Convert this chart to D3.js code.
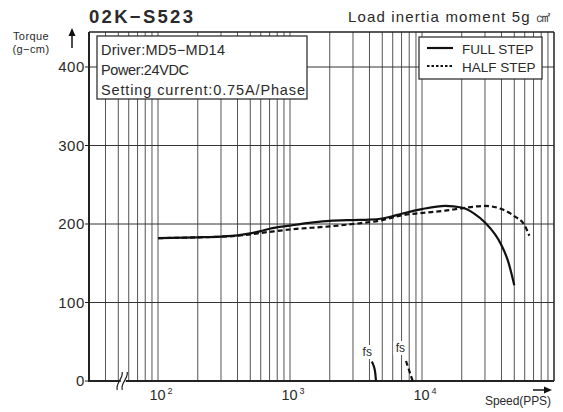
<!DOCTYPE html>
<html>
<head>
<meta charset="utf-8">
<script src="https://cdn.jsdelivr.net/npm/d3@7"></script>
<style>
  body { margin: 0; background: #fff; }
  text { font-family: "Liberation Sans", Arial, sans-serif; fill: #2a2a2a; }
</style>
</head>
<body>
<div id="chart"></div>
<script>
// torque curves (speed in PPS, torque in g-cm)
const fullSpeed = [100, 200, 300, 400, 500, 600, 700, 1000, 1500, 2000, 3000, 4000, 5000, 6000, 7000, 10000, 15000, 20000, 25000, 30000, 40000, 45000, 50000];
const fullTorque = [182, 183, 184, 185.5, 188, 191, 194, 198, 202, 204, 205, 205.5, 207, 210, 213, 219, 223, 221, 213, 202, 173, 152, 122];
const halfSpeed = [100, 200, 400, 700, 1000, 2000, 3000, 5000, 7000, 10000, 15000, 20000, 30000, 40000, 50000, 60000, 65000];
const halfTorque = [182, 183, 185, 190, 193, 197, 200, 205, 211, 214, 217, 220, 223, 219, 210, 198, 185];
// self-start (fs) tails
const fsFullSpeed = [4157, 4327, 4427, 4482];
const fsFullTorque = [24.6, 18.2, 9.8, 0];
const fsHalfSpeed = [7560, 7970, 8500];
const fsHalfTorque = [25.5, 14, 0];

const yTicks = [0, 100, 200, 300, 400];
const xTickExps = [2, 3, 4];
const legendLabels = ["FULL STEP", "HALF STEP"];
const infoLines = ["Driver:MD5−MD14", "Power:24VDC", "Setting current:0.75A/Phase"];

const width = 563, height = 412;
const pL = 89, pR = 554, pT = 32, pB = 381;

const svg = d3.select("#chart").append("svg")
  .attr("width", width)
  .attr("height", height)
  .style("display", "block");

const x = d3.scaleLog().domain([30, 1e5]).range([pL, pR]);
const y = d3.scaleLinear().domain([0, 400]).range([pB, 67]);

// vertical grid lines (minor log steps)
const gridX = [];
for (let e = 1; e <= 4; e++) {
  for (let m = 1; m <= 9; m++) {
    const v = m * Math.pow(10, e);
    if (v > 30 && v < 1e5) gridX.push(v);
  }
}
svg.append("g").selectAll("line")
  .data(gridX)
  .join("line")
  .attr("x1", d => x(d)).attr("x2", d => x(d))
  .attr("y1", pT).attr("y2", pB)
  .attr("stroke", "#555")
  .attr("stroke-width", 1);

// horizontal grid
svg.append("g").selectAll("line")
  .data(yTicks.filter(d => d > 0))
  .join("line")
  .attr("x1", pL).attr("x2", pR)
  .attr("y1", d => y(d)).attr("y2", d => y(d))
  .attr("stroke", "#333")
  .attr("stroke-width", 1);

// frame
svg.append("line").attr("x1", pL).attr("x2", pR).attr("y1", pT).attr("y2", pT)
  .attr("stroke", "#222").attr("stroke-width", 1.5);
svg.append("line").attr("x1", pR).attr("x2", pR).attr("y1", pT).attr("y2", pB)
  .attr("stroke", "#222").attr("stroke-width", 1.5);
svg.append("line").attr("x1", pL).attr("x2", pL).attr("y1", pT).attr("y2", pB + 1)
  .attr("stroke", "#222").attr("stroke-width", 2);
svg.append("line").attr("x1", pL - 1).attr("x2", pR).attr("y1", pB).attr("y2", pB)
  .attr("stroke", "#222").attr("stroke-width", 2);

// y ticks + labels
const yt = svg.append("g");
yt.selectAll("line").data(yTicks).join("line")
  .attr("x1", pL - 4).attr("x2", pL)
  .attr("y1", d => y(d)).attr("y2", d => y(d))
  .attr("stroke", "#222");
yt.selectAll("text").data(yTicks).join("text")
  .attr("x", pL - 4)
  .attr("y", d => y(d) + 5)
  .attr("text-anchor", "end")
  .attr("font-size", 15)
  .attr("letter-spacing", 0.6)
  .text(d => d);

// x labels 10^n
const xt = svg.append("g").selectAll("text").data(xTickExps).join("text")
  .attr("x", d => x(Math.pow(10, d)) + 3)
  .attr("y", 400)
  .attr("text-anchor", "middle")
  .attr("font-size", 14.5);
xt.append("tspan").text("10");
xt.append("tspan").attr("font-size", 9).attr("dy", -6).attr("dx", 2).text(d => d);

// axis break mark
const bx = x(55);
svg.append("rect").attr("x", bx - 3).attr("y", pB - 4).attr("width", 5).attr("height", 8).attr("fill", "#fff");
[-2.5, 2.5].forEach(dx => {
  svg.append("path")
    .attr("d", `M${bx + dx - 4},${pB + 9} C${bx + dx - 6},${pB + 2} ${bx + dx + 2},${pB - 2} ${bx + dx + 1},${pB - 9}`)
    .attr("fill", "none").attr("stroke", "#222").attr("stroke-width", 1.2);
});

// curves
const line = d3.line().x(d => x(d[0])).y(d => y(d[1])).curve(d3.curveMonotoneX);
const zip = (a, b) => a.map((v, i) => [v, b[i]]);

svg.append("path").datum(zip(halfSpeed, halfTorque))
  .attr("d", line).attr("fill", "none")
  .attr("stroke", "#111").attr("stroke-width", 2.2)
  .attr("stroke-dasharray", "5,3");
svg.append("path").datum(zip(fullSpeed, fullTorque))
  .attr("d", line).attr("fill", "none")
  .attr("stroke", "#111").attr("stroke-width", 2.2);

// fs labels and tails
function fsLabel(v, ty) {
  const g = svg.append("g");
  g.append("rect").attr("x", x(v) - 7).attr("y", ty - 11).attr("width", 14).attr("height", 14).attr("fill", "#fff");
  g.append("text").attr("x", x(v)).attr("y", ty).attr("text-anchor", "middle").attr("font-size", 12).text("fs");
}
fsLabel(3850, 356);
fsLabel(6850, 352);
svg.append("path").datum(zip(fsFullSpeed, fsFullTorque))
  .attr("d", line).attr("fill", "none").attr("stroke", "#111").attr("stroke-width", 2.2);
svg.append("path").datum(zip(fsHalfSpeed, fsHalfTorque))
  .attr("d", line).attr("fill", "none").attr("stroke", "#111").attr("stroke-width", 2.2)
  .attr("stroke-dasharray", "5,3");

// info box
svg.append("rect").attr("x", 97).attr("y", 36).attr("width", 210).attr("height", 63)
  .attr("fill", "#fff").attr("stroke", "#222").attr("stroke-width", 1.2);
const infoWidths = [124, 88, 204];
svg.append("g").selectAll("text").data(infoLines).join("text")
  .attr("x", 101)
  .attr("y", (d, i) => 55 + i * 20)
  .attr("font-size", 14.5)
  .attr("textLength", (d, i) => infoWidths[i])
  .attr("lengthAdjust", "spacing")
  .text(d => d);

// legend
svg.append("rect").attr("x", 419).attr("y", 37).attr("width", 123).attr("height", 42)
  .attr("fill", "#fff").attr("stroke", "#222").attr("stroke-width", 1.2);
const lg = svg.append("g").selectAll("g").data(legendLabels).join("g")
  .attr("transform", (d, i) => `translate(427,${48 + i * 18})`);
lg.append("line").attr("x1", 0).attr("x2", 26)
  .attr("stroke", "#111").attr("stroke-width", 2.2)
  .attr("stroke-dasharray", (d, i) => i ? "2.5,2" : null);
lg.append("text").attr("x", 35).attr("y", 6).attr("font-size", 13.5).text(d => d);

// titles
svg.append("text").attr("x", 89).attr("y", 23)
  .attr("font-size", 18.5).attr("font-weight", "bold")
  .attr("textLength", 104).attr("lengthAdjust", "spacing")
  .text("02K−S523");
svg.append("text").attr("x", 348).attr("y", 22)
  .attr("font-size", 15)
  .attr("textLength", 203).attr("lengthAdjust", "spacing")
  .text("Load inertia moment 5g ㎠");

// axis names and arrows
svg.append("text").attr("x", 31).attr("y", 40).attr("text-anchor", "middle").attr("font-size", 11)
  .attr("letter-spacing", 0.4).text("Torque");
svg.append("text").attr("x", 31).attr("y", 53).attr("text-anchor", "middle").attr("font-size", 11)
  .attr("letter-spacing", 0.4).text("(g−cm)");
svg.append("line").attr("x1", 72).attr("x2", 72).attr("y1", 48).attr("y2", 33).attr("stroke", "#111").attr("stroke-width", 1.5);
svg.append("path").attr("d", "M72,28 L68.5,36 L75.5,36 Z").attr("fill", "#111");

svg.append("line").attr("x1", 533).attr("x2", 546).attr("y1", 390).attr("y2", 390).attr("stroke", "#111").attr("stroke-width", 1.5);
svg.append("path").attr("d", "M552,390 L544,386.5 L544,393.5 Z").attr("fill", "#111");
svg.append("text").attr("x", 485).attr("y", 405).attr("font-size", 12)
  .attr("textLength", 66).attr("lengthAdjust", "spacing").text("Speed(PPS)");
</script>
</body>
</html>
